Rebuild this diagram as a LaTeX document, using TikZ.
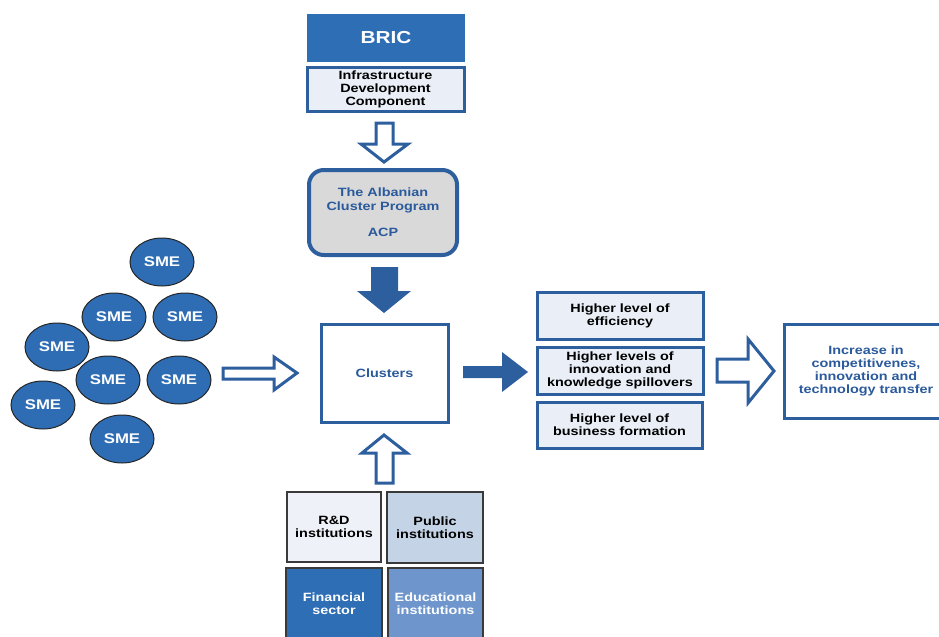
\documentclass[tikz,border=0pt]{standalone}
\usepackage{fontspec}
\usetikzlibrary{shapes.geometric}
\setmainfont{Liberation Sans}[FakeStretch=1.2]
\definecolor{bricblue}{HTML}{2E6EB5}
\definecolor{edgeblue}{HTML}{2D5E9E}
\definecolor{lightfill}{HTML}{E9EEF7}
\definecolor{acpgrey}{HTML}{D9D9D9}
\definecolor{textblue}{HTML}{2A5A9B}
\definecolor{rdfill}{HTML}{EEF2F8}
\definecolor{pubfill}{HTML}{C4D3E5}
\definecolor{edufill}{HTML}{6E96CD}
\definecolor{smeblue}{HTML}{2E6DB4}
\definecolor{darkedge}{HTML}{3A3A3A}
\begin{document}
\begin{tikzpicture}[x=0.75pt,y=-0.75pt,
  every node/.style={outer sep=0pt, inner sep=0pt, align=center},
  txt/.style={font=\fontsize{9}{9.75}\selectfont\bfseries},
  pxsize/.style 2 args={minimum width=#1*0.75pt, minimum height=#2*0.75pt, anchor=north west},
  lightbox/.style={txt, draw=edgeblue, fill=lightfill, line width=2.25pt},
  outbox/.style={txt, draw=edgeblue, fill=white, line width=2.25pt, text=textblue},
  gridbox/.style={txt, draw=darkedge, line width=0.9pt},
  sme/.style={ellipse, draw=black!85, line width=0.75pt, fill=smeblue, text=white,
    minimum width=64*0.75pt, minimum height=48*0.75pt,
    font=\fontsize{10.5}{11}\selectfont\bfseries},
  hollow/.style={draw=edgeblue, fill=white, line width=2.25pt, line join=miter},
  solid/.style={fill=edgeblue},
]
\useasboundingbox (0,0) rectangle (939,636);

% top column
\node[pxsize={158}{48}, fill=bricblue, text=white,
      font=\fontsize{13}{14}\selectfont\bfseries] (bric) at (307,14) {BRIC};
\node[lightbox, pxsize={157}{44}] (idc) at (307,67)
  {Infrastructure\\Development\\Component};
\node[txt, pxsize={148}{85}, draw=edgeblue, line width=3pt, fill=acpgrey,
      rounded corners=11pt, text=textblue, font=\fontsize{9}{10.5}\selectfont\bfseries] (acp) at (309,170)
  {The Albanian\\Cluster Program\\[9pt]ACP};

% clusters
\node[outbox, pxsize={127}{98}] (clusters) at (321,324) {Clusters};

% outcomes
\node[lightbox, pxsize={166}{47}] (eff) at (537,292) {Higher level of\\efficiency};
\node[lightbox, pxsize={166}{47}] (inno) at (537,347) {Higher levels of\\innovation and\\knowledge spillovers};
\node[lightbox, pxsize={165}{46}] (form) at (537,402) {Higher level of\\business formation};
\node[outbox, pxsize={164}{94}] (increase) at (784,324)
  {Increase in\\competitivenes,\\innovation and\\technology transfer};

% institutions
\node[gridbox, fill=rdfill, pxsize={94}{70}] (rd) at (287,492) {R\&D\\institutions};
\node[gridbox, fill=pubfill, pxsize={96}{71}] (pub) at (387,492) {Public\\institutions};
\node[gridbox, fill=bricblue, text=white, pxsize={96}{72}] (fin) at (286,568) {Financial\\sector};
\node[gridbox, fill=edufill, text=white, pxsize={95}{72}] (edu) at (388,568) {Educational\\institutions};

% SMEs
\node[sme] (s1) at (162,262) {SME};
\node[sme] (s2) at (114,317) {SME};
\node[sme] (s3) at (185,317) {SME};
\node[sme] (s4) at (57,347) {SME};
\node[sme] (s5) at (108,380) {SME};
\node[sme] (s6) at (179,380) {SME};
\node[sme] (s7) at (43,405) {SME};
\node[sme] (s8) at (122,439) {SME};

% block arrows
\draw[hollow] (376,123) -- (393,123) -- (393,144) -- (408,144) -- (384,162)
  -- (361,144) -- (376,144) -- cycle;
\fill[solid] (371,267) -- (398,267) -- (398,291) -- (411,291) -- (384,313)
  -- (357,291) -- (371,291) -- cycle;
\draw[hollow] (376,483) -- (393,483) -- (393,453) -- (407,453) -- (384,435)
  -- (362,453) -- (376,453) -- cycle;
\draw[hollow] (223,368) -- (274,368) -- (274,357) -- (297,373) -- (274,390)
  -- (274,379) -- (223,379) -- cycle;
\fill[solid] (463,366) -- (502,366) -- (502,352) -- (528,372) -- (502,392)
  -- (502,378) -- (463,378) -- cycle;
\draw[hollow] (717,359) -- (748,359) -- (748,339) -- (774,371) -- (748,403)
  -- (748,382) -- (717,382) -- cycle;
\end{tikzpicture}
\end{document}
